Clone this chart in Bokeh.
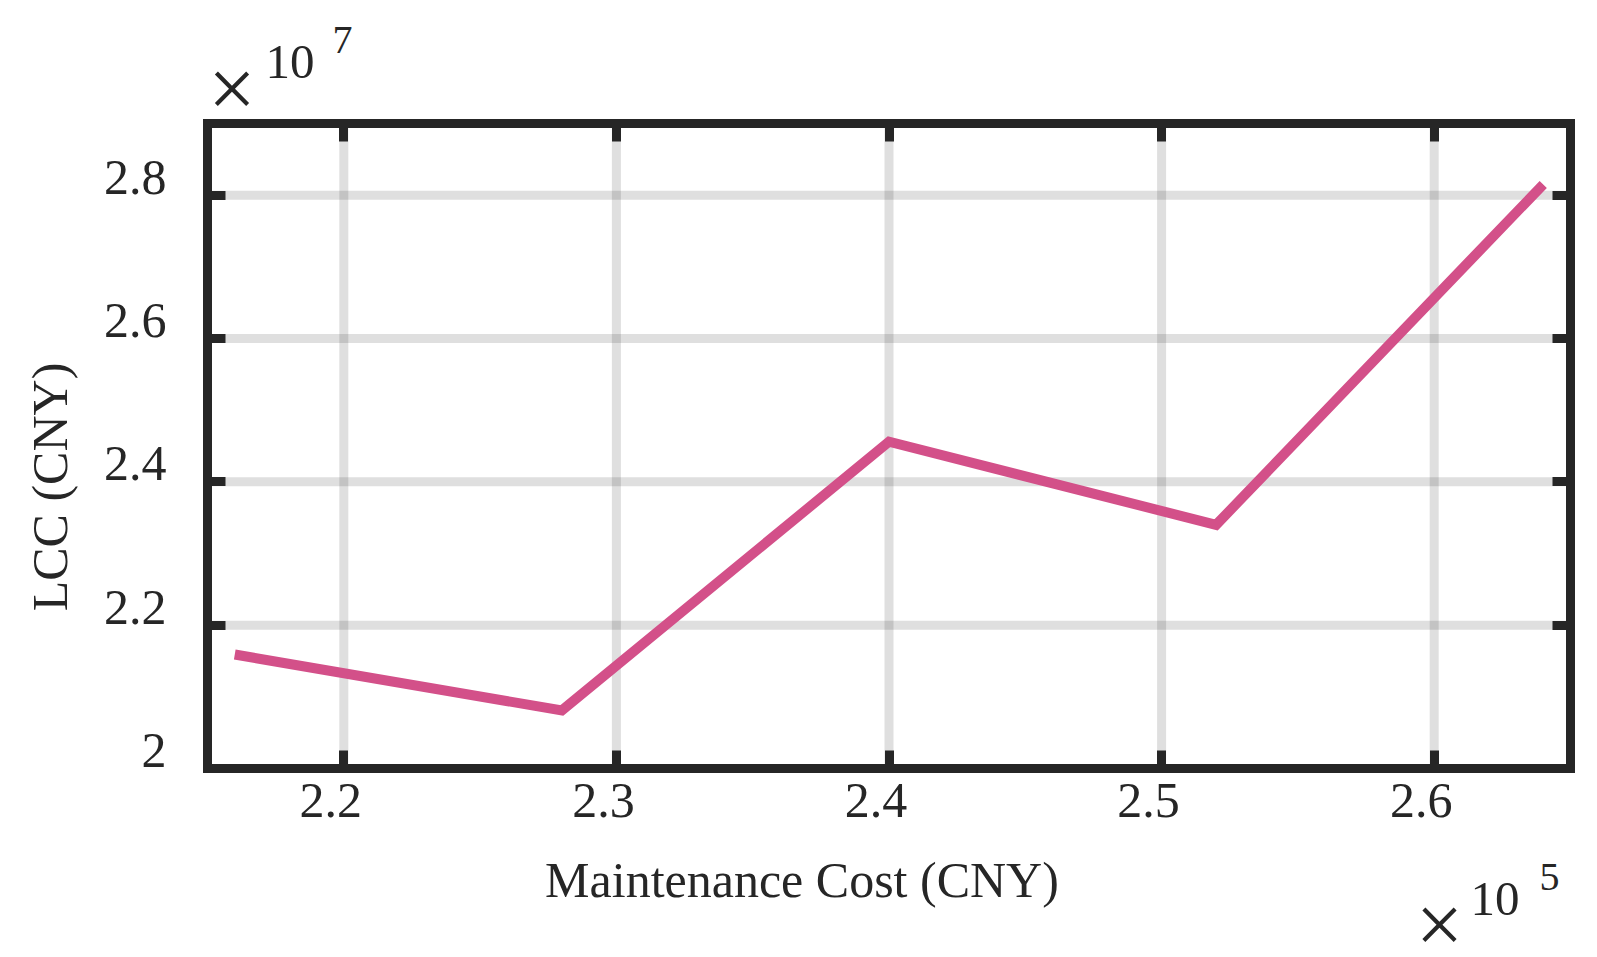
from bokeh.plotting import figure
from bokeh.models import Range1d, LinearAxis, FixedTicker, Label
from bokeh.embed import file_html
from bokeh.resources import INLINE

# ---- data ----
maintenance_cost = [216000, 228000, 240000, 252000, 264000]
lcc = [21590000, 20810000, 24560000, 23400000, 28150000]

x_ticks = [220000, 230000, 240000, 250000, 260000]
x_tick_labels = ["2.2", "2.3", "2.4", "2.5", "2.6"]
y_ticks = [20000000, 22000000, 24000000, 26000000, 28000000]
y_tick_labels = ["2", "2.2", "2.4", "2.6", "2.8"]

x_label = "Maintenance Cost (CNY)"
y_label = "LCC (CNY)"
x_exponent = "5"
y_exponent = "7"

FONT = "Liberation Serif"
DARK = "#262626"
LINE_COLOR = "#D35089"

X0, X1 = 215000, 265000            # axes limits
Y0, Y1 = 20000000, 29000000
FL, FR, FT, FB = 207, 1570, 123, 768   # axes box edges in canvas pixels
W, H = 1585, 945

ppx = (X1 - X0) / (FR - FL)
ppy = (Y1 - Y0) / (FB - FT)
def dx(px):
    return X0 + (px - FL) * ppx
def dy(py):
    return Y0 + (FB - py) * ppy

# the frame spans the whole canvas; the axes box is drawn by fixed-location axes
p = figure(width=W, height=H, output_backend="svg", toolbar_location=None,
           x_range=Range1d(dx(0), dx(W)), y_range=Range1d(dy(H), dy(0)),
           x_axis_location=None, y_axis_location=None, min_border=0,
           min_border_left=0, min_border_right=0, min_border_top=0, min_border_bottom=0)
p.background_fill_color = "white"
p.border_fill_color = "white"
p.outline_line_color = None
p.grid.visible = False

# tick-label ranges nudged as in the reference rendering
XS, YS = 13 * ppx, 18 * ppy
p.extra_x_ranges = {"xlab": Range1d(dx(0) + XS, dx(W) + XS)}
p.extra_y_ranges = {"ylab": Range1d(dy(H) - YS, dy(0) - YS)}

xt = FixedTicker(ticks=x_ticks)
yt = FixedTicker(ticks=y_ticks)

# grid lines (inside the axes box only)
nx, ny = len(x_ticks), len(y_ticks)
p.segment(x0=x_ticks, y0=[Y0] * nx, x1=x_ticks, y1=[Y1] * nx,
          line_color=DARK, line_alpha=0.15, line_width=9)
p.segment(x0=[X0] * ny, y0=y_ticks, x1=[X1] * ny, y1=y_ticks,
          line_color=DARK, line_alpha=0.15, line_width=9)

def box_axis(ticker, loc, bounds):
    ax = LinearAxis(ticker=ticker, fixed_location=loc, bounds=bounds)
    ax.axis_line_color = DARK
    ax.axis_line_width = 9
    ax.axis_line_cap = "square"
    ax.major_tick_in = 18
    ax.major_tick_out = 0
    ax.major_tick_line_width = 9
    ax.major_tick_line_color = DARK
    ax.minor_tick_line_color = None
    ax.major_label_text_font_size = "1px"
    ax.major_label_text_color = None
    ax.major_label_standoff = 0
    return ax

def label_axis(ticker, loc, bounds, rng_kw, labels_map, title):
    ax = LinearAxis(ticker=ticker, axis_label=title, fixed_location=loc, bounds=bounds, **rng_kw)
    ax.axis_line_color = None
    ax.major_tick_in = 0
    ax.major_tick_out = 0
    ax.major_tick_line_color = None
    ax.minor_tick_line_color = None
    ax.major_label_text_font = FONT
    ax.major_label_text_font_size = "50px"
    ax.major_label_text_color = DARK
    ax.major_label_overrides = labels_map
    ax.axis_label_text_font = FONT
    ax.axis_label_text_font_size = "50px"
    ax.axis_label_text_color = DARK
    ax.axis_label_text_font_style = "normal"
    return ax

x_over = {t: l for t, l in zip(x_ticks, x_tick_labels)}
y_over = {t: l for t, l in zip(y_ticks, y_tick_labels)}

# labels (axis titles centred where the reference puts them)
xmid = dx(801.6) + XS
xb1 = dx(FR) + XS
bottom = label_axis(xt, Y0, (2 * xmid - xb1, xb1), {"x_range_name": "xlab"}, x_over, x_label)
bottom.major_label_standoff = 15
bottom.axis_label_standoff = 32
p.add_layout(bottom, "below")

ymid = dy(486.5) - YS
yb1 = dy(FT) - YS
left = label_axis(yt, X0, (2 * ymid - yb1, yb1), {"y_range_name": "ylab"}, y_over, y_label)
left.major_label_standoff = 41
left.axis_label_standoff = 23
p.add_layout(left, "left")

p.line(maintenance_cost, lcc, line_color=LINE_COLOR, line_width=10,
       line_join="miter", line_cap="butt")

# box + ticks (drawn over the grid)
p.add_layout(box_axis(xt, Y0, (X0, X1)), "below")
p.add_layout(box_axis(xt, Y1, (X0, X1)), "above")
p.add_layout(box_axis(yt, X0, (Y0, Y1)), "left")
p.add_layout(box_axis(yt, X1, (Y0, Y1)), "right")

def lab(text, px, py, size, align="left", baseline="alphabetic"):
    p.add_layout(Label(x=dx(px), y=dy(py), text=text,
                       text_font=FONT, text_font_size=size, text_color=DARK,
                       text_align=align, text_baseline=baseline))

lab("\u00d7", 231.5, 87.5, "84px", align="center", baseline="middle")
lab("10", 265, 61, "49px")
lab(y_exponent, 332, 39, "40px")
lab("\u00d7", 1439, 924, "84px", align="center", baseline="middle")
lab("10", 1470, 898, "49px")
lab(x_exponent, 1539, 876, "40px")

open("out.html", "w").write(file_html(p, INLINE))
